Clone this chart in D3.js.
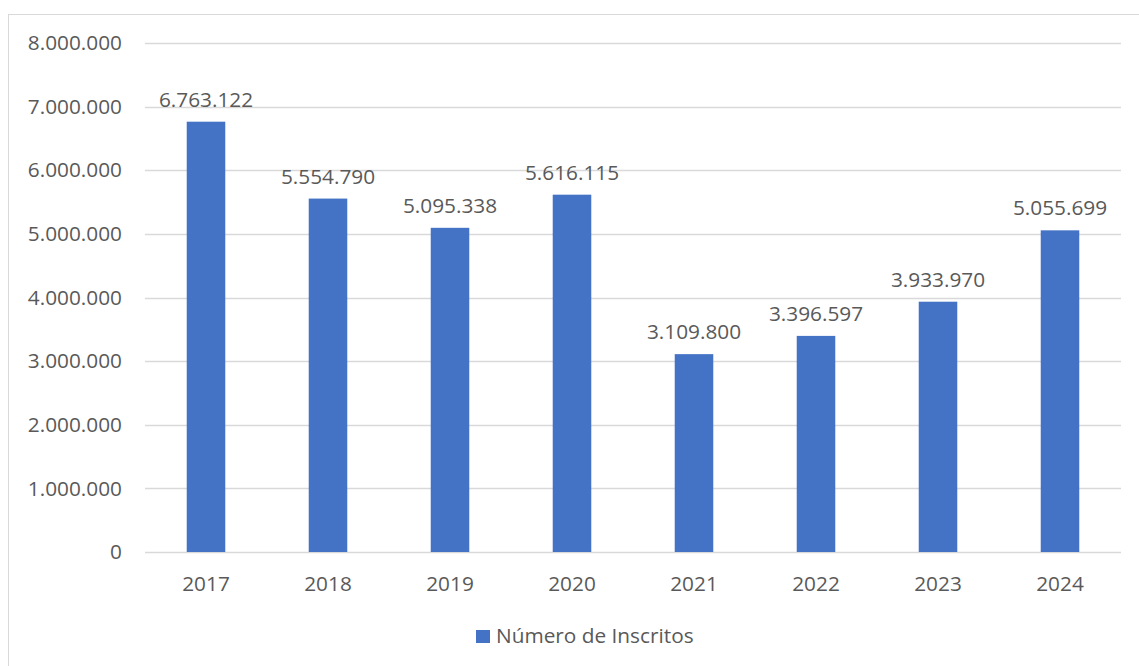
<!DOCTYPE html>
<html>
<head>
<meta charset="utf-8">
<script src="https://cdn.jsdelivr.net/npm/d3@7"></script>
<style>
  html, body { margin: 0; padding: 0; background: #fff; }
  svg { display: block; }
  text { font-family: "Open Sans", "Noto Sans", sans-serif; fill: #595959; }
</style>
</head>
<body>
<svg id="chart" width="1139" height="666"></svg>
<script>
// Inscritos por ano
const years = ["2017", "2018", "2019", "2020", "2021", "2022", "2023", "2024"];
const inscritos = [6763122, 5554790, 5095338, 5616115, 3109800, 3396597, 3933970, 5055699];
const yTicks = [0, 1000000, 2000000, 3000000, 4000000, 5000000, 6000000, 7000000, 8000000];
const seriesName = "Número de Inscritos";

const W = 1139, H = 666;
const plot = { left: 145, right: 1121, top: 43, bottom: 552 };
const barColor = "#4472C4";
const gridColor = "#d9d9d9";
const fontSize = 20.8;

const fmt = d3.formatLocale({ decimal: ",", thousands: ".", grouping: [3], currency: ["", ""] }).format(",d");

const svg = d3.select("#chart");

// chart frame
svg.append("rect")
  .attr("x", 8.5).attr("y", 14.5)
  .attr("width", W + 10).attr("height", H + 10)
  .attr("fill", "none").attr("stroke", gridColor).attr("stroke-width", 1);

const x = d3.scaleBand().domain(years).range([plot.left, plot.right]).paddingInner(0.684).paddingOuter(0.342);
const y = d3.scaleLinear().domain([0, 8000000]).range([plot.bottom, plot.top]);

// gridlines
svg.append("g").selectAll("line").data(yTicks).join("line")
  .attr("x1", plot.left).attr("x2", plot.right)
  .attr("y1", d => Math.round(y(d)) + 0.5).attr("y2", d => Math.round(y(d)) + 0.5)
  .attr("stroke", gridColor).attr("stroke-width", 1.5);

// y axis labels
const yAxis = d3.axisLeft(y).tickValues(yTicks).tickFormat(fmt).tickSize(0).tickPadding(0);
const gy = svg.append("g").attr("transform", `translate(122,0)`).call(yAxis);
gy.select(".domain").remove();
gy.selectAll("text").attr("font-size", fontSize).attr("fill", "#595959")
  .attr("font-family", "'Open Sans', sans-serif");

// x axis labels
const xAxis = d3.axisBottom(x).tickSize(0).tickPadding(0);
const gx = svg.append("g").attr("transform", `translate(0,${plot.bottom})`).call(xAxis);
gx.select(".domain").remove();
gx.selectAll("text").attr("font-size", fontSize).attr("fill", "#595959")
  .attr("font-family", "'Open Sans', sans-serif")
  .attr("dy", null).attr("y", 39);

// bars
svg.append("g").selectAll("rect").data(years).join("rect")
  .attr("x", d => x(d)).attr("width", x.bandwidth())
  .attr("y", (d, i) => y(inscritos[i]))
  .attr("height", (d, i) => y(0) - y(inscritos[i]))
  .attr("fill", barColor);

// value labels
svg.append("g").selectAll("text").data(years).join("text")
  .attr("x", d => x(d) + x.bandwidth() / 2)
  .attr("y", (d, i) => y(inscritos[i]) - 15)
  .attr("text-anchor", "middle").attr("font-size", fontSize)
  .text((d, i) => fmt(inscritos[i]));

// legend
const lg = svg.append("g");
lg.append("rect").attr("x", 476).attr("y", 630).attr("width", 14).attr("height", 13).attr("fill", barColor);
lg.append("text").attr("x", 496).attr("y", 643).attr("font-size", fontSize).text(seriesName);
</script>
</body>
</html>
